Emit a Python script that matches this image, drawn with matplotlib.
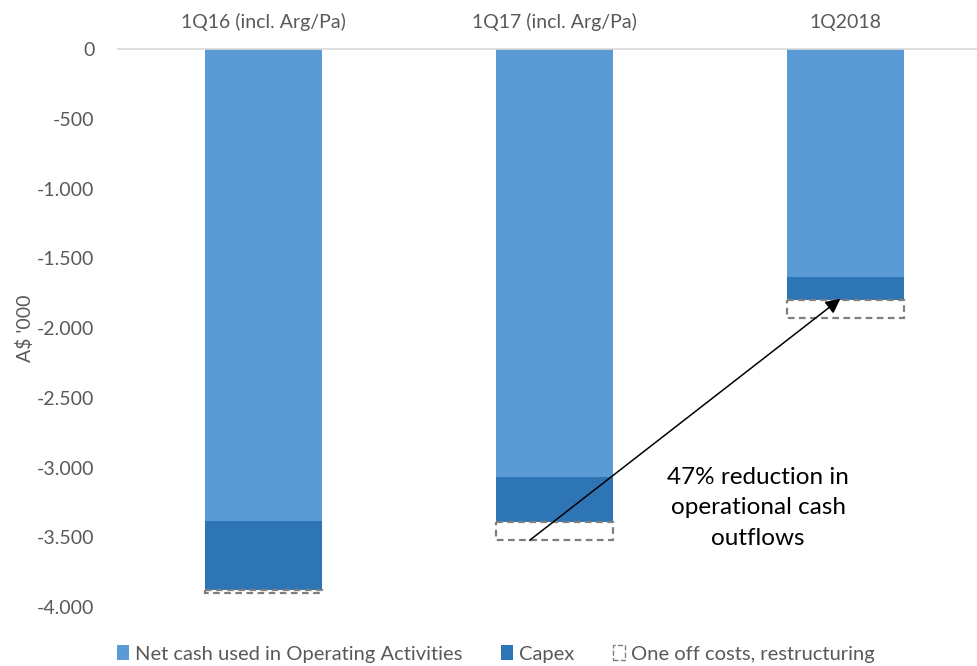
import numpy as np
import matplotlib.pyplot as plt
from matplotlib.patches import Patch
from matplotlib.ticker import FuncFormatter

plt.rcParams['font.family'] = ['Lato', 'DejaVu Sans']

# dados (A$ '000)
categorias = ["1Q16 (incl. Arg/Pa)", "1Q17 (incl. Arg/Pa)", "1Q2018"]
operacional = [3384, 3068, 1634]
capex = [494, 323, 165]
one_off = [22, 129, 129]

cor_op = "#5B9BD5"
cor_capex = "#2E75B6"
cinza = "#595959"

fig = plt.figure(figsize=(9.78, 6.66), dpi=100)
ax = fig.add_axes([118/978, 1 - 607/666, 873/978, 558/666])

x = np.arange(len(categorias))
op = -np.array(operacional)
cp = -np.array(capex)
oo = -np.array(one_off)

ax.bar(x, op, width=0.4, color=cor_op, label="Net cash used in Operating Activities")
ax.bar(x, cp, bottom=op, width=0.4, color=cor_capex, label="Capex")
ax.bar(x, oo, bottom=op + cp, width=0.4, fill=False, edgecolor="#7F7F7F",
       linestyle=(0, (3, 2)), linewidth=1.6, label="One off costs, restructuring")

ax.set_xlim(-0.5, 2.5)
ax.set_ylim(-4000, 0)
ax.set_yticks(np.arange(-4000, 1, 500))
ax.yaxis.set_major_formatter(FuncFormatter(lambda v, p: f"{int(v):,}".replace(",", ".")))

ax.xaxis.tick_top()
ax.set_xticks(x)
ax.set_xticklabels(categorias)
ax.tick_params(axis="both", length=0, labelsize=14, colors=cinza)
ax.tick_params(axis="x", pad=13)
ax.tick_params(axis="y", pad=17)

for s in ["left", "right", "bottom"]:
    ax.spines[s].set_visible(False)
ax.spines["top"].set_color("#D9D9D9")
ax.spines["top"].set_linewidth(1.2)

ax.set_ylabel("A$ '000", fontsize=14, color=cinza, labelpad=2)

# seta e anotacao
ax.annotate("", xy=(1.99, -1778), xytext=(0.907, -3534),
            arrowprops=dict(arrowstyle="-|>", color="black", lw=1.1, mutation_scale=22))
ax.text(1.70, -3290, "47% reduction in\noperational cash\noutflows", ha="center", va="center",
        fontsize=17.5, color="black", linespacing=1.55)

handles = [Patch(facecolor=cor_op), Patch(facecolor=cor_capex),
           Patch(facecolor="white", edgecolor="#7F7F7F", linestyle="--")]
labels = ["Net cash used in Operating Activities", "Capex", "One off costs, restructuring"]
fig.legend(handles, labels, loc="center", bbox_to_anchor=(0.507, 0.018), ncol=3, frameon=False,
           fontsize=14.5, labelcolor=cinza, handlelength=0.6, handleheight=0.7,
           handletextpad=0.3, columnspacing=1.9)

fig.savefig("out.png", dpi=100)
